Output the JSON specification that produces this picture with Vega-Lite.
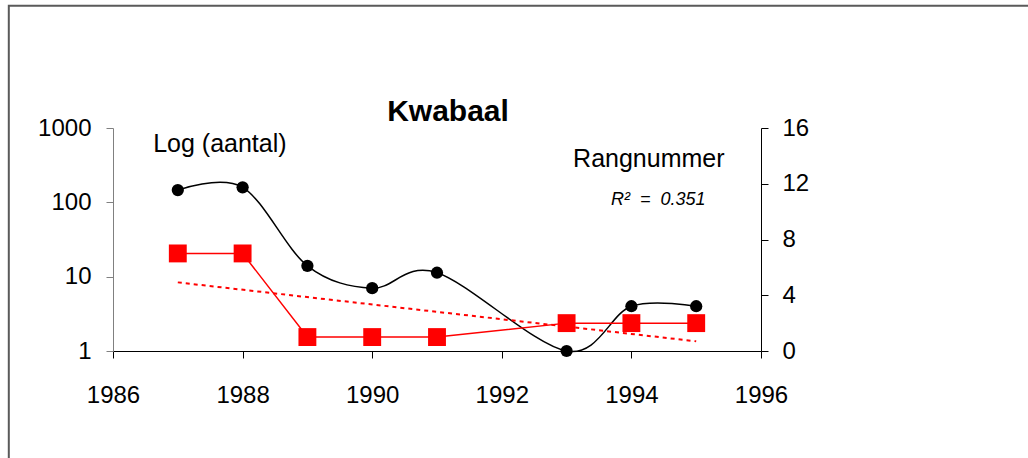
{
  "$schema": "https://vega.github.io/schema/vega-lite/v6.json",
  "width": 648,
  "height": 223,
  "autosize": "none",
  "padding": {"left": 113, "top": 128, "right": 267, "bottom": 107},
  "background": "white",
  "config": {
    "font": "Liberation Sans",
    "view": {"stroke": null},
    "axis": {"grid": false, "labelFontSize": 24, "labelColor": "black", "labelFont": "Liberation Sans", "tickSize": 7, "domainWidth": 1, "tickWidth": 1, "labelFlush": false, "labelOverlap": false}
  },
  "title": {"text": "Kwabaal", "fontSize": 30, "fontWeight": "bold", "color": "black", "font": "Liberation Sans", "anchor": "middle", "frame": "group", "dx": 11, "offset": -146, "baseline": "alphabetic"},
  "data": {
    "values": [
      {"year": 1987, "aantal": 146, "rang": 7},
      {"year": 1988, "aantal": 159, "rang": 7},
      {"year": 1989, "aantal": 14, "rang": 1},
      {"year": 1990, "aantal": 7, "rang": 1},
      {"year": 1991, "aantal": 11.3, "rang": 1},
      {"year": 1993, "aantal": 1, "rang": 2},
      {"year": 1994, "aantal": 4, "rang": 2},
      {"year": 1995, "aantal": 4, "rang": 2}
    ]
  },
  "encoding": {
    "x": {
      "field": "year", "type": "quantitative",
      "scale": {"domain": [1986, 1996], "nice": false, "zero": false},
      "axis": {"values": [1986, 1988, 1990, 1992, 1994, 1996], "format": "d", "title": null, "labelPadding": 25, "domainColor": "black", "tickColor": "black"}
    }
  },
  "layer": [
    {
      "layer": [
        {
          "mark": {"type": "line", "interpolate": "cardinal", "color": "black", "strokeWidth": 1.5},
          "encoding": {
            "y": {"field": "aantal", "type": "quantitative", "scale": {"type": "log", "domain": [1, 1000]}, "axis": {"title": null, "values": [1, 10, 100, 1000], "format": "d", "labelPadding": 15, "domainColor": "#808080", "tickColor": "#808080"}}
          }
        },
        {
          "mark": {"type": "point", "shape": "circle", "filled": true, "color": "black", "size": 150, "opacity": 1},
          "encoding": {
            "y": {"field": "aantal", "type": "quantitative", "title": null}
          }
        },
        {
          "transform": [{"filter": "datum.year == 1987"}],
          "mark": {"type": "text", "text": "Log (aantal)", "align": "left", "baseline": "alphabetic", "fontSize": 25, "color": "black"},
          "encoding": {
            "x": {"datum": 1986.62, "type": "quantitative"},
            "y": {"datum": 475, "type": "quantitative"}
          }
        },
        {
          "transform": [{"filter": "datum.year == 1987"}],
          "mark": {"type": "rect", "fill": null, "stroke": "#5a5a5a", "strokeWidth": 2},
          "encoding": {
            "x": {"datum": 1984.392, "type": "quantitative"},
            "x2": {"datum": 2010},
            "y": {"datum": 44220, "type": "quantitative"},
            "y2": {"datum": 0.001}
          }
        }
      ]
    },
    {
      "layer": [
        {
          "mark": {"type": "line", "color": "#ff0000", "strokeWidth": 1.5},
          "encoding": {
            "y": {"field": "rang", "type": "quantitative", "scale": {"domain": [0, 16], "nice": false}, "axis": {"orient": "right", "title": null, "values": [0, 4, 8, 12, 16], "labelPadding": 14, "domainColor": "black", "tickColor": "black"}}
          }
        },
        {
          "transform": [{"regression": "rang", "on": "year", "extent": [1987, 1995]}],
          "mark": {"type": "line", "color": "#ff0000", "strokeWidth": 2, "strokeDash": [4, 4]},
          "encoding": {
            "y": {"field": "rang", "type": "quantitative", "title": null}
          }
        },
        {
          "mark": {"type": "point", "shape": "square", "filled": true, "color": "#ff0000", "size": 320, "opacity": 1},
          "encoding": {
            "y": {"field": "rang", "type": "quantitative", "title": null}
          }
        },
        {
          "transform": [{"filter": "datum.year == 1987"}],
          "mark": {"type": "text", "text": "Rangnummer", "align": "left", "baseline": "alphabetic", "fontSize": 25, "color": "black"},
          "encoding": {
            "x": {"datum": 1993.1, "type": "quantitative"},
            "y": {"datum": 13.22, "type": "quantitative"}
          }
        },
        {
          "transform": [{"filter": "datum.year == 1987"}],
          "mark": {"type": "text", "text": "R²\u00a0 =\u00a0 0.351", "align": "left", "baseline": "alphabetic", "fontSize": 18, "fontStyle": "italic", "color": "black"},
          "encoding": {
            "x": {"datum": 1993.685, "type": "quantitative"},
            "y": {"datum": 10.49, "type": "quantitative"}
          }
        }
      ]
    }
  ],
  "resolve": {"scale": {"y": "independent"}}
}
